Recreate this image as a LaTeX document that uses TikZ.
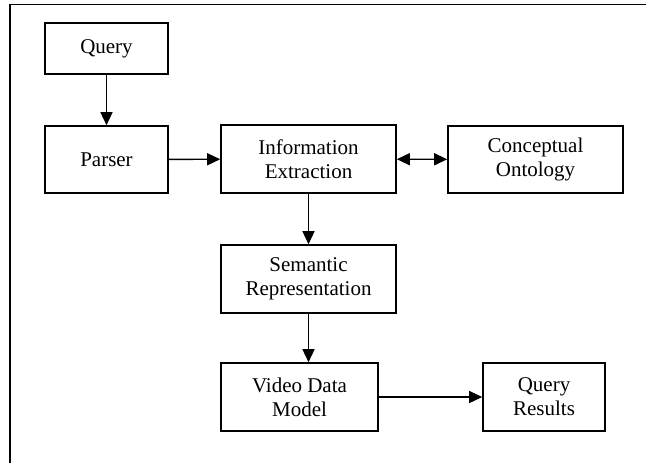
\documentclass[tikz,border=0pt]{standalone}
\usepackage{fontspec}
\setmainfont{Liberation Serif}
\usetikzlibrary{arrows.meta,calc}
\tikzset{%
  stage/.style = {shape=rectangle, draw, align=center,%
                  line width=0.8pt, inner sep=0pt,%
                  font=\fontsize{10.5}{12}\selectfont},%
  flow/.style  = {line width=0.7pt, -{Triangle[length=6.5pt,width=6pt]}},%
  twoway/.style = {line width=0.7pt, {Triangle[length=6.5pt,width=6pt]}-{Triangle[length=6.5pt,width=6pt]}}%
}
\begin{document}
\begin{tikzpicture}[x=0.5pt,y=-0.5pt]%
	\useasboundingbox (0,0) rectangle (646,463);
	% frame, cut at the right and the bottom
	\draw[line width=0.9pt] (10,463) -- (10,4.5) -- (646,4.5);
	\node (query) at (106.5,48.5) [stage,minimum width=61.5pt,minimum height=25.5pt] {Query};
	\node (parser) at (106.5,159.5) [stage,minimum width=61.5pt,minimum height=33.5pt] {Parser};
	\node (extract) at (308.5,159) [stage,minimum width=87.5pt,minimum height=34pt] {Information\\Extraction};
	\node (onto) at (535.5,159.5) [stage,minimum width=87.5pt,minimum height=33.5pt] {Conceptual\\Ontology};
	\node (semrep) at (308.5,279) [stage,minimum width=87.5pt,minimum height=34pt] {Semantic\\Representation};
	\node (vdm) at (299.5,397) [stage,minimum width=78.5pt,minimum height=34pt] {Video Data\\Model};
	\node (results) at (544,397) [stage,minimum width=61pt,minimum height=34pt] {Query\\Results};
	\draw[flow] (query) -- (parser);
	\draw[flow] (parser) -- (extract);
	\draw[twoway] (extract) -- (onto);
	\draw[flow] (extract) -- (semrep);
	\draw[flow] (semrep.south) -- (semrep.south |- vdm.north);
	\draw[flow] (vdm) -- (results);
\end{tikzpicture}
\end{document}
